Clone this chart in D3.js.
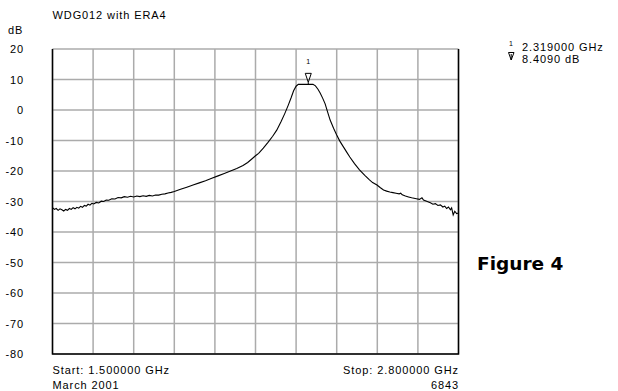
<!DOCTYPE html>
<html>
<head>
<meta charset="utf-8">
<script src="https://cdn.jsdelivr.net/npm/d3@7"></script>
<style>
  body { margin: 0; background: #fff; }
  text { font-family: "Liberation Sans", Arial, sans-serif; font-size: 11px; letter-spacing: 0.9px; fill: #000; }
</style>
</head>
<body>
<div id="chart"></div>
<script>
// trace: frequency (GHz) and level (dB)
var freq = [
	1.500, 1.506, 1.512, 1.518, 1.524, 1.530, 1.536, 1.542, 1.548, 1.554,
	1.560, 1.566, 1.572, 1.578, 1.584, 1.590, 1.596, 1.602, 1.608, 1.614,
	1.620, 1.626, 1.632, 1.640, 1.648, 1.656, 1.664, 1.672, 1.680, 1.690,
	1.700, 1.710, 1.720, 1.730, 1.740, 1.750, 1.760, 1.770, 1.780, 1.790,
	1.800, 1.810, 1.820, 1.830, 1.840, 1.850, 1.860, 1.870, 1.880, 1.890,
	1.910, 1.930, 1.950, 1.970, 1.990, 2.010, 2.030, 2.050, 2.070, 2.090,
	2.110, 2.125, 2.140, 2.150, 2.160, 2.175, 2.190, 2.205, 2.218, 2.232,
	2.244, 2.255, 2.264, 2.272, 2.280, 2.287, 2.300, 2.319, 2.334, 2.342,
	2.350, 2.357, 2.365, 2.373, 2.381, 2.389, 2.400, 2.410, 2.420, 2.431,
	2.442, 2.452, 2.467, 2.483, 2.500, 2.515, 2.525, 2.539, 2.550, 2.560,
	2.570, 2.580, 2.590, 2.600, 2.610, 2.615, 2.620, 2.630, 2.640, 2.650,
	2.665, 2.675, 2.683, 2.688, 2.700, 2.710, 2.718, 2.726, 2.734, 2.742,
	2.750, 2.756, 2.762, 2.768, 2.774, 2.778, 2.783, 2.788, 2.794, 2.800
];
var level = [
	-32.0, -32.6, -32.3, -32.9, -32.4, -32.7, -33.1, -32.6, -32.9, -32.3,
	-32.6, -32.0, -32.4, -31.9, -32.2, -31.6, -31.9, -31.3, -31.5, -30.9,
	-31.2, -30.6, -30.8, -30.3, -30.5, -29.9, -30.0, -29.5, -29.6, -29.1,
	-29.2, -28.7, -28.8, -28.4, -28.6, -28.3, -28.5, -28.2, -28.4, -28.1,
	-28.3, -28.0, -28.2, -27.9, -27.9, -27.6, -27.5, -27.2, -27.0, -26.7,
	-26.0, -25.3, -24.6, -23.9, -23.2, -22.4, -21.6, -20.8, -20.0, -19.2,
	-18.2, -17.2, -15.9, -15.0, -14.2, -12.5, -10.6, -8.6, -6.6, -3.8,
	-1.1, 1.6, 4.0, 6.3, 7.8, 8.4, 8.4, 8.4, 8.4, 7.9,
	6.8, 5.6, 3.9, 2.0, -0.7, -3.3, -6.0, -8.2, -10.2, -12.0,
	-13.8, -15.4, -17.6, -19.6, -21.4, -22.9, -23.8, -24.6, -25.5, -26.2,
	-26.6, -26.9, -27.1, -27.3, -27.5, -27.3, -27.8, -28.2, -28.5, -28.8,
	-29.1, -29.3, -28.8, -29.5, -30.0, -30.4, -30.9, -30.7, -31.3, -31.1,
	-31.8, -31.5, -32.3, -31.8, -32.7, -32.1, -34.4, -33.2, -34.0, -33.8
];

var x_ticks = [1.50, 1.63, 1.76, 1.89, 2.02, 2.15, 2.28, 2.41, 2.54, 2.67, 2.80];
var y_ticks = [20, 10, 0, -10, -20, -30, -40, -50, -60, -70, -80];

var marker_freq = 2.319;
var marker_level = 8.409;


// Create SVG Element
var chart_width  = 618;
var chart_height = 391;
var svg = d3.select('#chart')
	.append('svg')
	.attr('width', chart_width)
	.attr('height', chart_height);

// scales
var x_scale = d3.scaleLinear()
	.domain([1.5, 2.8])
	.range([52.5, 458.5]);

var y_scale = d3.scaleLinear()
	.domain([-80, 20])
	.range([354, 49]);


// grid
svg.selectAll('.vgrid')
	.data(x_ticks)
	.enter()
	.append('line')
	.attr('x1', function(d){ return x_scale(d); })
	.attr('x2', function(d){ return x_scale(d); })
	.attr('y1', y_scale(20))
	.attr('y2', y_scale(-80))
	.attr('stroke', '#ababab')
	.attr('stroke-width', 1.5);

svg.selectAll('.hgrid')
	.data(y_ticks)
	.enter()
	.append('line')
	.attr('x1', x_scale(1.5))
	.attr('x2', x_scale(2.8))
	.attr('y1', function(d){ return y_scale(d); })
	.attr('y2', function(d){ return y_scale(d); })
	.attr('stroke', '#ababab')
	.attr('stroke-width', 1.5);

// frame: left, bottom, right in black
svg.append('path')
	.attr('d', 'M' + x_scale(1.5) + ',' + y_scale(20) +
		'V' + y_scale(-80) + 'H' + x_scale(2.8) + 'V' + y_scale(20))
	.attr('fill', 'none')
	.attr('stroke', '#000')
	.attr('stroke-width', 1.5);

// y labels
svg.selectAll('.ylab')
	.data(y_ticks)
	.enter()
	.append('text')
	.text(function(d){ return d; })
	.attr('x', 24)
	.attr('y', function(d){ return y_scale(d) + 4; })
	.attr('text-anchor', 'end');

// trace
var line = d3.line()
	.x(function(d, i){ return x_scale(freq[i]); })
	.y(function(d){ return y_scale(d); });

svg.append('path')
	.datum(level)
	.attr('d', line)
	.attr('fill', 'none')
	.attr('stroke', '#000')
	.attr('stroke-width', 1.1);

// marker
var mx = x_scale(marker_freq);
var my = y_scale(marker_level);
svg.append('path')
	.attr('d', 'M' + (mx - 3) + ',' + (my - 11) + 'H' + (mx + 3) + 'L' + mx + ',' + (my - 2) + 'Z' +
		'M' + mx + ',' + (my - 2) + 'V' + my)
	.attr('fill', 'none')
	.attr('stroke', '#000')
	.attr('stroke-width', 1);

svg.append('text')
	.text('1')
	.attr('x', mx)
	.attr('y', my - 20)
	.attr('text-anchor', 'middle')
	.style('font-size', '7px')
	.style('letter-spacing', '0');

// marker readout
svg.append('text')
	.text('1')
	.attr('x', 511)
	.attr('y', 46)
	.attr('text-anchor', 'middle')
	.style('font-size', '7px')
	.style('letter-spacing', '0');

svg.append('path')
	.attr('d', 'M508.5,52.5H514L511.2,60Z M511.2,54V60')
	.attr('fill', 'none')
	.attr('stroke', '#000')
	.attr('stroke-width', 1);

svg.append('text')
	.text(marker_freq.toFixed(6) + ' GHz')
	.attr('x', 522)
	.attr('y', 51);

svg.append('text')
	.text(marker_level.toFixed(4) + ' dB')
	.attr('x', 522)
	.attr('y', 63);

// titles
svg.append('text')
	.text('WDG012 with ERA4')
	.attr('x', 52.5)
	.attr('y', 19);

svg.append('text')
	.text('dB')
	.attr('x', 8)
	.attr('y', 34);

svg.append('text')
	.text('Start: 1.500000 GHz')
	.attr('x', 52.5)
	.attr('y', 374);

svg.append('text')
	.text('Stop: 2.800000 GHz')
	.attr('x', 459)
	.attr('y', 374)
	.attr('text-anchor', 'end');

svg.append('text')
	.text('March 2001')
	.attr('x', 52.5)
	.attr('y', 389);

svg.append('text')
	.text('6843')
	.attr('x', 459)
	.attr('y', 389)
	.attr('text-anchor', 'end');

svg.append('text')
	.text('Figure 4')
	.attr('x', 477)
	.attr('y', 270)
	.style('font-family', '"DejaVu Sans", Verdana, sans-serif')
	.style('font-weight', 'bold')
	.style('font-size', '18.5px')
	.style('letter-spacing', '0');
</script>
</body>
</html>
